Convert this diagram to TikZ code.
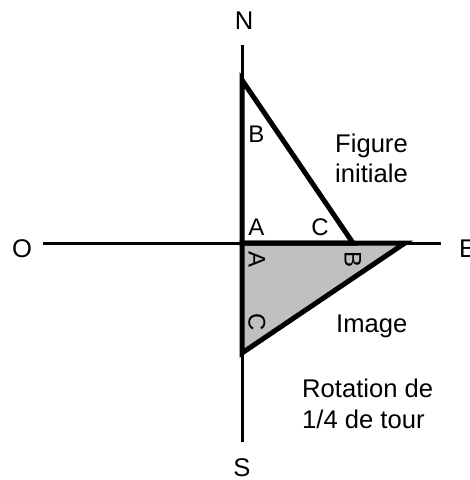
\documentclass[tikz,border=0pt]{standalone}
\usepackage{fontspec}
\setmainfont{Liberation Sans}
\begin{document}
\begin{tikzpicture}[x=1pt,y=-1pt,
  axis/.style={line width=3pt},
  tri/.style={line width=5pt, line join=miter},
  big/.style={inner sep=0pt, font=\fontsize{25.6}{30}\selectfont},
  vlab/.style={inner sep=0pt, font=\fontsize{24}{28}\selectfont},
  rlab/.style={inner sep=0pt, font=\fontsize{24}{28}\selectfont, text height=17pt, text depth=0pt, rotate=-90, anchor=center}]
\useasboundingbox (0,0) rectangle (470,480);
% axes end points
\coordinate (Ntop) at (242,45);
\coordinate (Sbot) at (242,442);
\coordinate (Oleft) at (43,243);
\coordinate (Eright) at (441,243);
% triangles
\coordinate (A) at (242,243);
\coordinate (B) at (242,80);
\coordinate (C) at (353,243);
\coordinate (B2) at (405,243);
\coordinate (C2) at (242,353);
\fill[fill={rgb,255:red,191;green,192;blue,194}] (A) -- (B2) -- (C2) -- cycle;
\draw[axis] (Ntop) -- (Sbot);
\draw[axis] (Oleft) -- (Eright);
\draw[tri] (A) -- (B) -- (C) -- cycle;
\draw[tri] (A) -- (B2) -- (C2) -- cycle;
% cardinal labels
\node[big, anchor=base] (nN) at (244,29) {N};
\node[big, anchor=base] (nS) at (242,476) {S};
\node[big, anchor=base] (nO) at (22,257) {O};
\node[big, anchor=base west] (nE) at (459,257) {E};
% vertex labels
\node[vlab, anchor=base] (lB) at (256.5,142) {B};
\node[vlab, anchor=base] (lA) at (256.5,235) {A};
\node[vlab, anchor=base] (lC) at (320,235) {C};
\node[rlab] (rA) at (257,259) {A};
\node[rlab] (rB) at (353,259) {B};
\node[rlab] (rC) at (257,322.5) {C};
% texts
\node[big, anchor=base west] (fig1) at (335,152) {Figure};
\node[big, anchor=base west] (fig2) at (335,182) {initiale};
\node[big, anchor=base west] (img) at (336,332) {Image};
\node[big, anchor=base west] (rot1) at (302,397) {Rotation de};
\node[big, anchor=base west] (rot2) at (302,428) {1/4 de tour};
\end{tikzpicture}
\end{document}
